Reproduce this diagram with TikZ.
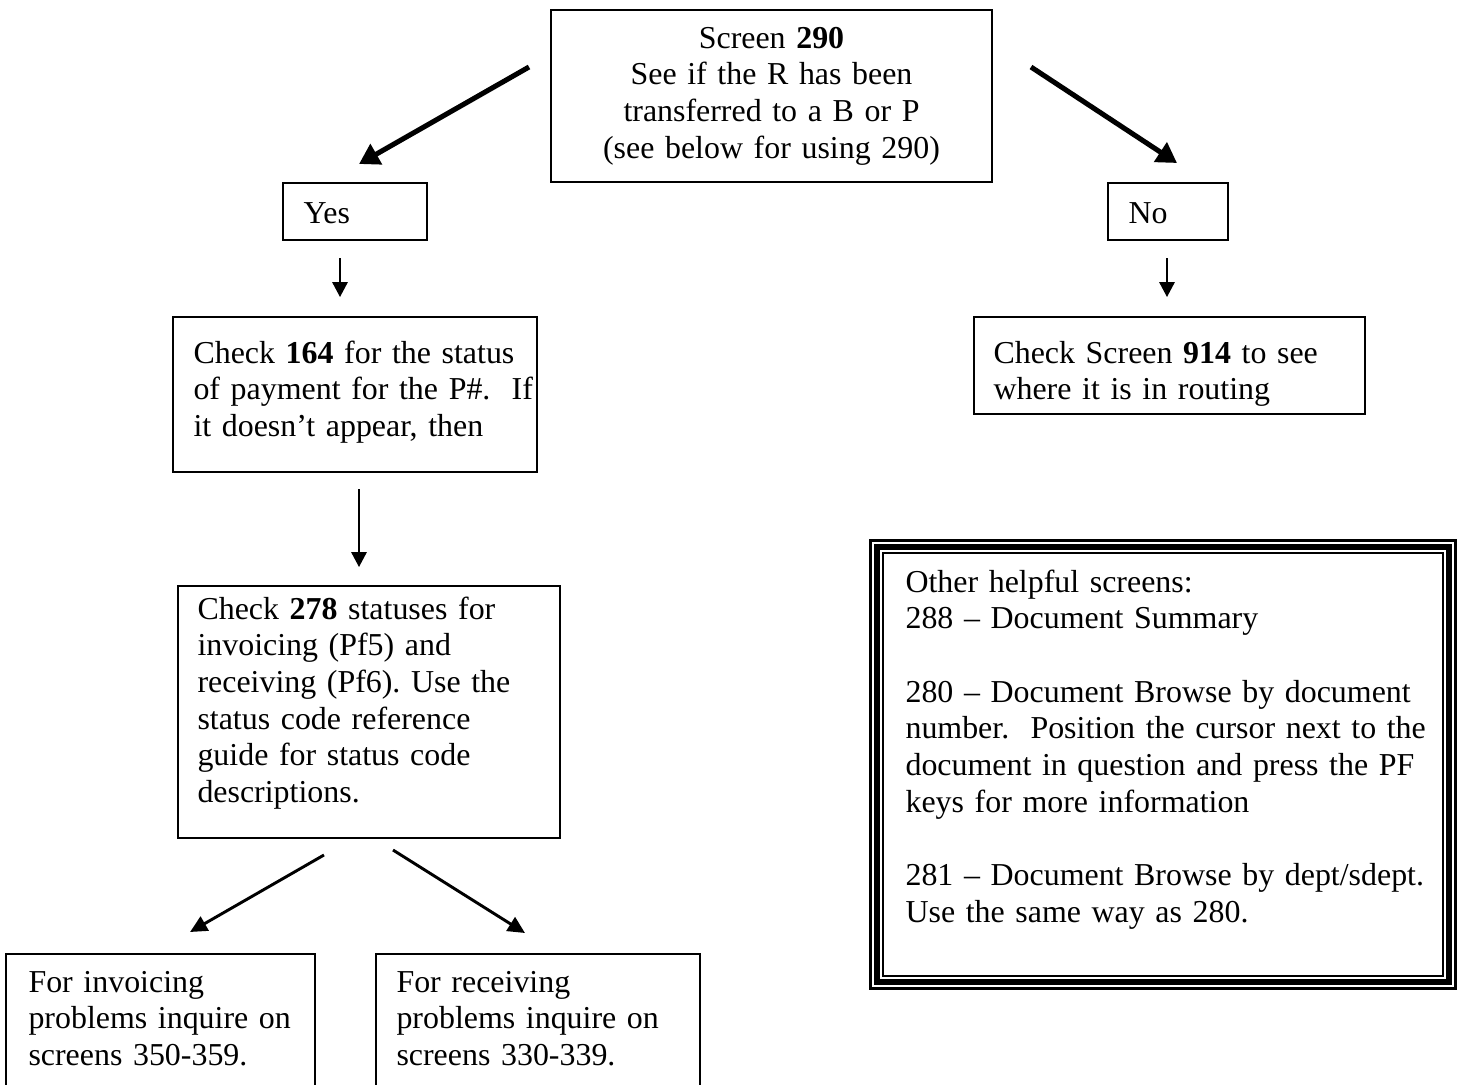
\documentclass[tikz,border=0pt]{standalone}
\usepackage{fontspec}
\setmainfont{Liberation Serif}
\usetikzlibrary{arrows.meta,fit}
\frenchspacing

\begin{document}
\begin{tikzpicture}[x=0.376pt, y=-0.376pt,
        font=\fontsize{12pt}{13.8pt}\selectfont,
        box/.style={draw, line width=0.75pt, inner sep=0pt, outer sep=0pt},
        txt/.style={inner sep=0pt, anchor=base west, align=left, text width=5cm},
        bigarrow/.style={line width=1.9pt, -{Triangle[length=7.5pt,width=8.5pt]}},
        downarrow/.style={line width=0.6pt, -{Triangle[length=5.6pt,width=5.8pt]}},
        splitarrow/.style={line width=1.1pt, -{Triangle[length=6.4pt,width=6pt]}}]
        \useasboundingbox (0,0) rectangle (1460,1084);
        \clip (0,0) rectangle (1460,1084);

        % top question
        \node[box, fit={(551,10) (992,182)}] (scr290) {};
        \node[txt, anchor=base, align=center, text width=8cm] (scr290txt) at (771.5,48)
            {Screen \textbf{290}\\ See if the R has been\\ transferred to a B or P\\ (see below for using 290)};

        % yes / no
        \node[box, fit={(283,183) (427,240)}] (yes) {};
        \node[txt] (yestxt) at (303,223) {Yes};
        \node[box, fit={(1108,183) (1228,240)}] (no) {};
        \node[txt] (notxt) at (1128,223) {No};

        \coordinate (yesfrom) at (529,67);
        \coordinate (yesto) at (359,164);
        \coordinate (nofrom) at (1031,67);
        \coordinate (noto) at (1177,163);
        \draw[bigarrow] (yesfrom) -- (yesto);
        \draw[bigarrow] (nofrom) -- (noto);

        % second row
        \node[box, fit={(173,317) (537,472)}] (chk164) {};
        \node[txt] (chk164txt) at (193,363)
            {Check \textbf{164} for the status\\ of payment for the P\#.~ If\\ it doesn’t appear, then};
        \node[box, fit={(974,317) (1365,414)}] (chk914) {};
        \node[txt] (chk914txt) at (993,363)
            {Check Screen \textbf{914} to see\\ where it is in routing};

        \coordinate (ya) at (340,258);
        \coordinate (yb) at (340,297);
        \coordinate (na) at (1167,258);
        \coordinate (nb) at (1167,297);
        \draw[downarrow] (ya) -- (yb);
        \draw[downarrow] (na) -- (nb);

        % statuses
        \node[box, fit={(178,586) (560,838)}] (chk278) {};
        \node[txt] (chk278txt) at (197,619)
            {Check \textbf{278} statuses for\\ invoicing (Pf5) and\\ receiving (Pf6). Use the\\
             status code reference\\ guide for status code\\ descriptions.};

        \coordinate (ca) at (359,489);
        \coordinate (cb) at (359,567);
        \draw[downarrow] (ca) -- (cb);

        % invoicing / receiving
        \node[box, fit={(6,954) (315,1100)}] (inv) {};
        \node[txt] (invtxt) at (28,992)
            {For invoicing\\ problems inquire on\\ screens 350-359.};
        \node[box, fit={(376,954) (700,1100)}] (rcv) {};
        \node[txt] (rcvtxt) at (396,992)
            {For receiving\\ problems inquire on\\ screens 330-339.};

        \coordinate (invfrom) at (324,855);
        \coordinate (invto) at (190,932);
        \coordinate (rcvfrom) at (393,850);
        \coordinate (rcvto) at (525,933);
        \draw[splitarrow] (invfrom) -- (invto);
        \draw[splitarrow] (rcvfrom) -- (rcvto);

        % helpful screens, triple frame
        \node[box, line width=0.95pt, fit={(870.5,540.5) (1455.5,988.5)}] (help) {};
        \draw[line width=2.3pt] ([shift={(6.5,6.5)}]help.north west) rectangle ([shift={(-6.5,-6.5)}]help.south east);
        \draw[line width=0.75pt] ([shift={(12.5,12.5)}]help.north west) rectangle ([shift={(-12.5,-12.5)}]help.south east);
        \node[txt, text width=7.4cm] (helptxt) at (905,592)
            {Other helpful screens:\\ 288 -- Document Summary\\[13.8pt]
             280 -- Document Browse by document\\ number.~ Position the cursor next to the\\
             document in question and press the PF\\ keys for more information\\[13.8pt]
             281 -- Document Browse by dept/sdept.\\ Use the same way as 280.};
\end{tikzpicture}
\end{document}
